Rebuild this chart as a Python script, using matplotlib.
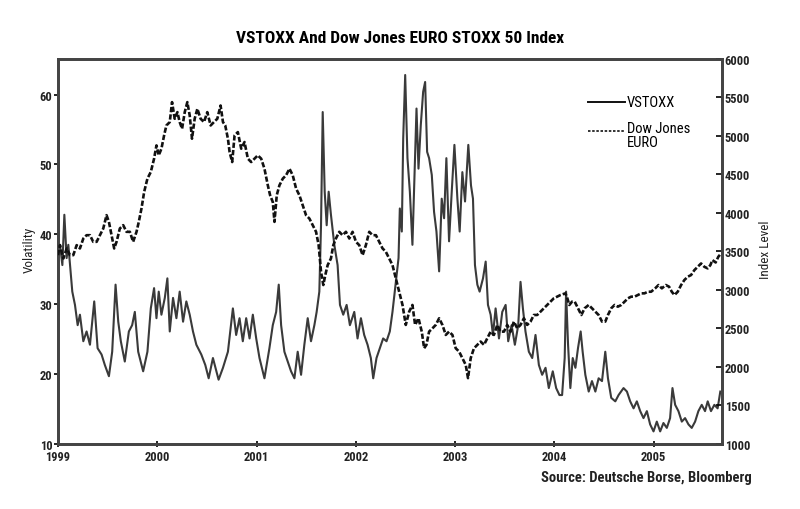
import matplotlib
matplotlib.use('Agg')
import matplotlib.pyplot as plt
from matplotlib.lines import Line2D

plt.rcParams['font.family'] = ['Liberation Sans Narrow', 'DejaVu Sans Condensed', 'Roboto Condensed',
                               'DejaVu Sans']
plt.rcParams['font.stretch'] = 'condensed'

# VSTOXX (left axis), time in fractional years
vs_t = [1999.0, 1999.02, 1999.044, 1999.064, 1999.087, 1999.104, 1999.121, 1999.144, 1999.171, 1999.198,
        1999.221, 1999.255, 1999.288, 1999.322, 1999.365, 1999.399, 1999.439, 1999.472, 1999.513, 1999.546,
        1999.58, 1999.607, 1999.633, 1999.673, 1999.714, 1999.747, 1999.774, 1999.808, 1999.858, 1999.901,
        1999.935, 1999.968, 1999.992, 2000.015, 2000.042, 2000.076, 2000.102, 2000.126, 2000.159, 2000.193,
        2000.226, 2000.26, 2000.293, 2000.327, 2000.36, 2000.394, 2000.444, 2000.484, 2000.518, 2000.561,
        2000.618, 2000.662, 2000.712, 2000.762, 2000.795, 2000.829, 2000.862, 2000.896, 2000.93, 2000.963,
        2000.997, 2001.03, 2001.08, 2001.13, 2001.164, 2001.198, 2001.224, 2001.248, 2001.281, 2001.315,
        2001.348, 2001.382, 2001.415, 2001.449, 2001.482, 2001.516, 2001.549, 2001.583, 2001.606, 2001.633,
        2001.65, 2001.667, 2001.687, 2001.707, 2001.727, 2001.75, 2001.784, 2001.817, 2001.841, 2001.874,
        2001.908, 2001.941, 2001.985, 2002.018, 2002.052, 2002.085, 2002.119, 2002.152, 2002.176, 2002.209,
        2002.243, 2002.276, 2002.31, 2002.343, 2002.37, 2002.397, 2002.431, 2002.444, 2002.464, 2002.478,
        2002.498, 2002.521, 2002.545, 2002.571, 2002.592, 2002.612, 2002.632, 2002.655, 2002.679, 2002.699,
        2002.719, 2002.739, 2002.766, 2002.789, 2002.813, 2002.84, 2002.866, 2002.89, 2002.913, 2002.94,
        2002.967, 2002.994, 2003.024, 2003.047, 2003.074, 2003.101, 2003.134, 2003.161, 2003.181, 2003.201,
        2003.225, 2003.248, 2003.282, 2003.309, 2003.332, 2003.359, 2003.382, 2003.409, 2003.443, 2003.476,
        2003.51, 2003.536, 2003.57, 2003.603, 2003.637, 2003.66, 2003.684, 2003.71, 2003.744, 2003.778,
        2003.811, 2003.845, 2003.878, 2003.912, 2003.945, 2003.985, 2004.019, 2004.052, 2004.079, 2004.105,
        2004.119, 2004.139, 2004.162, 2004.186, 2004.213, 2004.239, 2004.266, 2004.286, 2004.313, 2004.347,
        2004.38, 2004.414, 2004.447, 2004.481, 2004.514, 2004.541, 2004.574, 2004.615, 2004.648, 2004.698,
        2004.732, 2004.765, 2004.799, 2004.832, 2004.866, 2004.899, 2004.933, 2004.966, 2005.0, 2005.033,
        2005.067, 2005.1, 2005.134, 2005.167, 2005.191, 2005.218, 2005.251, 2005.285, 2005.318, 2005.352,
        2005.385, 2005.419, 2005.452, 2005.486, 2005.519, 2005.546, 2005.579, 2005.613, 2005.646, 2005.673]
vs_v = [36.6, 38.5, 35.6, 42.8, 36.6, 38.5, 35.6, 31.8, 29.9, 27.0,
        28.5, 24.7, 26.1, 24.2, 30.4, 23.7, 22.8, 21.3, 19.7, 23.2,
        32.8, 27.5, 24.7, 21.8, 26.1, 27.0, 28.9, 23.2, 20.4, 23.2,
        29.4, 32.3, 28.0, 31.8, 28.5, 30.9, 33.7, 26.1, 30.9, 28.0,
        31.8, 27.5, 30.4, 28.5, 26.1, 24.2, 22.8, 21.3, 19.4, 22.3,
        19.2, 20.9, 23.2, 29.4, 25.6, 28.0, 24.7, 28.0, 25.1, 28.5,
        25.1, 22.3, 19.4, 23.7, 27.0, 28.9, 32.8, 27.0, 23.2, 21.8,
        20.4, 19.4, 23.2, 19.9, 24.2, 28.0, 24.7, 27.0, 28.9, 31.8,
        41.3, 57.5, 46.1, 41.3, 46.1, 42.8, 38.5, 35.6, 29.9, 28.5,
        29.9, 27.0, 28.9, 25.1, 28.0, 25.6, 24.2, 22.3, 19.4, 22.3,
        23.7, 25.1, 24.7, 26.1, 28.9, 32.3, 36.6, 43.7, 40.4, 53.7,
        62.8, 50.9, 46.1, 38.5, 48.5, 58.0, 49.4, 55.6, 60.4, 61.8,
        51.8, 50.9, 48.5, 43.2, 40.4, 34.7, 45.1, 42.3, 50.9, 39.0,
        46.1, 52.8, 45.1, 40.4, 48.9, 44.7, 52.8, 47.0, 45.1, 35.6,
        32.8, 31.8, 33.7, 36.1, 29.9, 28.5, 25.6, 29.4, 25.1, 28.9,
        29.9, 24.7, 27.0, 24.2, 27.0, 33.2, 29.4, 26.1, 23.2, 22.3,
        25.6, 21.3, 19.9, 20.9, 18.0, 20.4, 18.0, 17.0, 17.0, 22.3,
        31.8, 24.2, 18.0, 22.3, 20.9, 23.7, 26.1, 23.2, 19.9, 17.5,
        19.0, 17.5, 19.4, 19.0, 23.2, 19.4, 16.6, 16.1, 17.0, 18.0,
        17.5, 16.1, 15.1, 16.1, 14.7, 13.7, 14.7, 12.8, 11.8, 13.2,
        11.8, 13.0, 12.3, 13.7, 18.0, 15.6, 14.7, 13.2, 13.7, 12.8,
        12.3, 13.2, 14.7, 15.6, 14.7, 16.1, 14.7, 15.6, 15.1, 17.5]

# Dow Jones EURO STOXX 50 (right axis)
dj_t = [1999.0, 1999.02, 1999.054, 1999.087, 1999.121, 1999.154, 1999.188, 1999.221, 1999.255, 1999.288,
        1999.322, 1999.355, 1999.389, 1999.422, 1999.456, 1999.489, 1999.513, 1999.54, 1999.566, 1999.59,
        1999.623, 1999.657, 1999.69, 1999.724, 1999.757, 1999.791, 1999.814, 1999.841, 1999.868, 1999.901,
        1999.935, 1999.968, 1999.992, 2000.015, 2000.042, 2000.069, 2000.092, 2000.126, 2000.149, 2000.176,
        2000.203, 2000.226, 2000.25, 2000.277, 2000.303, 2000.327, 2000.35, 2000.377, 2000.404, 2000.437,
        2000.471, 2000.504, 2000.538, 2000.571, 2000.605, 2000.638, 2000.662, 2000.685, 2000.712, 2000.729,
        2000.755, 2000.779, 2000.812, 2000.846, 2000.879, 2000.913, 2000.946, 2000.98, 2001.013, 2001.047,
        2001.08, 2001.114, 2001.137, 2001.164, 2001.181, 2001.204, 2001.231, 2001.265, 2001.298, 2001.332,
        2001.365, 2001.399, 2001.432, 2001.466, 2001.499, 2001.533, 2001.566, 2001.6, 2001.626, 2001.65,
        2001.673, 2001.693, 2001.717, 2001.75, 2001.774, 2001.8, 2001.834, 2001.867, 2001.901, 2001.935,
        2001.968, 2002.002, 2002.035, 2002.069, 2002.102, 2002.136, 2002.169, 2002.203, 2002.236, 2002.27,
        2002.303, 2002.337, 2002.37, 2002.404, 2002.437, 2002.471, 2002.504, 2002.538, 2002.571, 2002.598,
        2002.632, 2002.665, 2002.689, 2002.712, 2002.739, 2002.773, 2002.806, 2002.84, 2002.873, 2002.907,
        2002.94, 2002.974, 2003.007, 2003.041, 2003.074, 2003.108, 2003.131, 2003.158, 2003.191, 2003.225,
        2003.258, 2003.292, 2003.325, 2003.359, 2003.392, 2003.426, 2003.459, 2003.493, 2003.526, 2003.56,
        2003.593, 2003.627, 2003.66, 2003.694, 2003.727, 2003.761, 2003.794, 2003.828, 2003.861, 2003.895,
        2003.928, 2003.962, 2003.995, 2004.029, 2004.062, 2004.112, 2004.132, 2004.152, 2004.179, 2004.206,
        2004.239, 2004.273, 2004.306, 2004.347, 2004.38, 2004.414, 2004.447, 2004.481, 2004.514, 2004.541,
        2004.574, 2004.608, 2004.641, 2004.675, 2004.708, 2004.742, 2004.775, 2004.809, 2004.842, 2004.876,
        2004.909, 2004.943, 2004.976, 2005.017, 2005.05, 2005.084, 2005.124, 2005.157, 2005.184, 2005.211,
        2005.244, 2005.278, 2005.311, 2005.345, 2005.378, 2005.412, 2005.445, 2005.479, 2005.512, 2005.546,
        2005.573, 2005.593, 2005.626, 2005.653, 2005.68]
dj_v = [3452, 3582, 3409, 3539, 3452, 3452, 3582, 3539, 3668, 3711,
        3711, 3625, 3625, 3711, 3798, 3971, 3884, 3711, 3539, 3625,
        3798, 3841, 3755, 3755, 3625, 3755, 3884, 4057, 4273, 4446,
        4532, 4705, 4877, 4748, 4834, 5007, 5136, 5180, 5439, 5223,
        5309, 5180, 5093, 5309, 5439, 5266, 4964, 5223, 5352, 5223,
        5180, 5309, 5136, 5180, 5223, 5395, 5180, 5136, 4964, 4791,
        4661, 5007, 5050, 4834, 4921, 4705, 4661, 4705, 4748, 4705,
        4575, 4359, 4230, 4143, 3884, 4230, 4359, 4446, 4489, 4575,
        4489, 4316, 4230, 4100, 3971, 3927, 3841, 3755, 3582, 3236,
        3064, 3193, 3323, 3409, 3582, 3668, 3755, 3711, 3755, 3668,
        3755, 3625, 3582, 3452, 3582, 3755, 3711, 3711, 3625, 3539,
        3496, 3409, 3323, 3150, 2977, 2805, 2546, 2718, 2805, 2546,
        2632, 2459, 2243, 2287, 2459, 2502, 2546, 2632, 2546, 2416,
        2459, 2416, 2243, 2200, 2114, 2027, 1855, 2114, 2243, 2287,
        2330, 2287, 2373, 2459, 2416, 2546, 2459, 2459, 2546, 2459,
        2589, 2502, 2546, 2632, 2546, 2589, 2675, 2675, 2718, 2762,
        2805, 2848, 2891, 2913, 2934, 2956, 2891, 2805, 2848, 2848,
        2762, 2675, 2762, 2805, 2762, 2718, 2675, 2589, 2589, 2675,
        2762, 2805, 2783, 2805, 2848, 2891, 2913, 2913, 2934, 2956,
        2956, 2977, 2977, 3021, 3064, 3021, 3064, 3042, 2977, 2934,
        2977, 3064, 3129, 3172, 3193, 3258, 3301, 3344, 3301, 3280,
        3323, 3388, 3357, 3431, 3474]

years = [1999, 2000, 2001, 2002, 2003, 2004, 2005]
vol_ticks = [10, 20, 30, 40, 50, 60]
idx_ticks = [1000, 1500, 2000, 2500, 3000, 3500, 4000, 4500, 5000, 5500, 6000]

fig = plt.figure(figsize=(8, 5.1), dpi=100)
ax = fig.add_axes([0.0725, 0.1275, 0.83, 0.755])
ax2 = ax.twinx()

ax.plot(vs_t, vs_v, color='#3a3a3a', lw=1.5, zorder=3)
ax2.plot(dj_t, dj_v, color='#111111', lw=1.9, linestyle=(0, (2, 0.8)), zorder=3)

ax.set_xlim(1999.0, 2005.69)
ax.set_ylim(10, 65.1)
ax2.set_ylim(1000, 6000)

ax.set_xticks(years)
ax.set_xticklabels([str(y) for y in years])
ax.set_yticks(vol_ticks)
ax2.set_yticks(idx_ticks)

for a in (ax, ax2):
    for s in a.spines.values():
        s.set_linewidth(2)
        s.set_color('#444444')

ax.tick_params(axis='x', direction='inout', length=5, width=1.2, labelsize=9, pad=2)
ax.tick_params(axis='y', direction='out', length=3, width=1.2, labelsize=9, pad=1)
ax2.tick_params(axis='y', direction='in', length=4, width=1.2, labelsize=9, pad=2)
for lab in ax.get_xticklabels() + ax.get_yticklabels() + ax2.get_yticklabels():
    lab.set_fontweight('bold')
    lab.set_color('#222222')

fig.text(0.5, 0.925, 'VSTOXX And Dow Jones EURO STOXX 50 Index', ha='center', va='center',
         fontsize=12.5, fontweight='bold')
fig.text(0.036, 0.51, 'Volatility', rotation=90, ha='center', va='center', fontsize=9.5, color='#222222')
fig.text(0.957, 0.51, 'Index Level', rotation=90, ha='center', va='center', fontsize=9.5, color='#222222')
fig.text(0.94, 0.063, 'Source: Deutsche Borse, Bloomberg', ha='right', va='center',
         fontsize=10.5, fontweight='bold', color='#222222')

# legend
ax.add_line(Line2D([0.798, 0.854], [0.888, 0.888], transform=ax.transAxes, color='#111111', lw=1.4))
ax.add_line(Line2D([0.798, 0.854], [0.813, 0.813], transform=ax.transAxes, color='#111111', lw=1.2,
                   linestyle=(0, (1.5, 1))))
ax.text(0.857, 0.888, 'VSTOXX', transform=ax.transAxes, va='center', ha='left', fontsize=10.5)
ax.text(0.857, 0.838, 'Dow Jones\nEURO', transform=ax.transAxes, va='top', ha='left', fontsize=10.5,
        linespacing=0.95)

fig.savefig('out.png', dpi=100, facecolor='white')
